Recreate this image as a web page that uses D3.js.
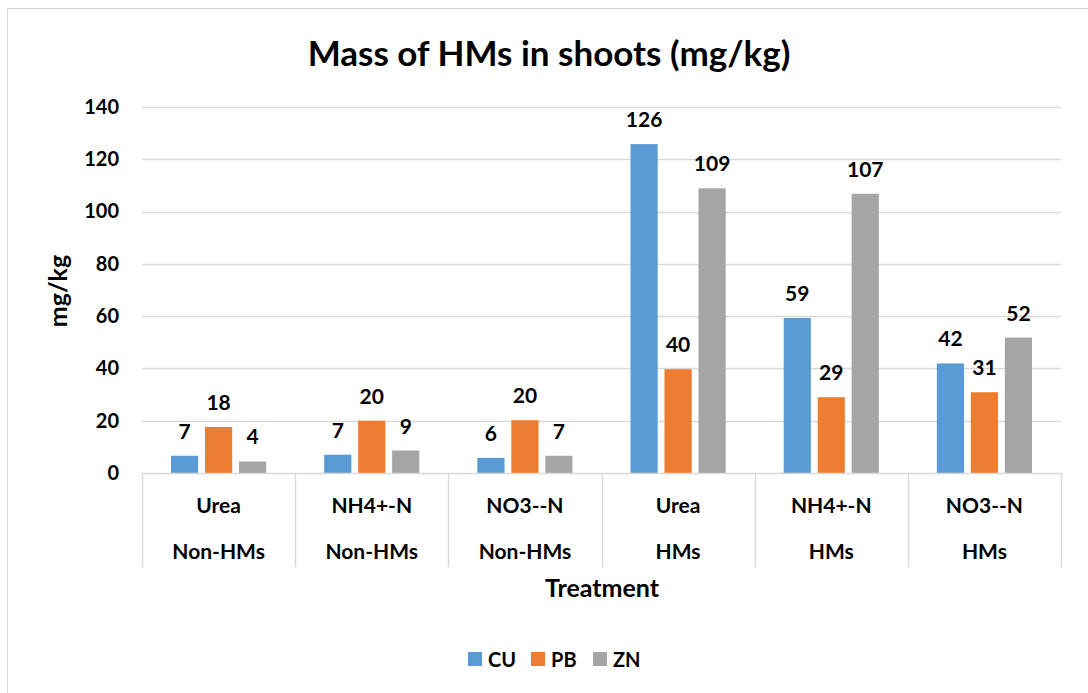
<!DOCTYPE html>
<html>
<head>
<meta charset="utf-8">
<script src="https://cdn.jsdelivr.net/npm/d3@7"></script>
<style>
  body { margin: 0; background: #fff; }
  text { font-family: Lato, "Open Sans", sans-serif; font-weight: bold; fill: #000; }
</style>
</head>
<body>
<div id="chart"></div>
<script>
// data
var treatments = ["Urea", "NH4+-N", "NO3--N", "Urea", "NH4+-N", "NO3--N"];
var groups = ["Non-HMs", "Non-HMs", "Non-HMs", "HMs", "HMs", "HMs"];
var seriesNames = ["CU", "PB", "ZN"];
var cuValues = [6.6, 7.0, 5.8, 125.8, 59.3, 41.9];
var pbValues = [17.6, 20.0, 20.2, 39.7, 29.0, 30.9];
var znValues = [4.4, 8.6, 6.6, 108.9, 106.8, 51.8];
var colors = ["#5b9bd5", "#ed7d31", "#a5a5a5"];
var yTicks = [0, 20, 40, 60, 80, 100, 120, 140];

var w = 1088, h = 693;
var plotLeft = 142, plotRight = 1061, plotTop = 107, plotBottom = 473;

var svg = d3.select("#chart").append("svg")
  .attr("width", w)
  .attr("height", h);

// outer chart border (only left/top edge visible in frame)
svg.append("rect")
  .attr("x", 7.5).attr("y", 8.5)
  .attr("width", 1100).attr("height", 700)
  .attr("fill", "none")
  .attr("stroke", "#d9d9d9");

svg.append("text")
  .attr("x", 549).attr("y", 66)
  .attr("text-anchor", "middle")
  .style("font-size", "35px")
  .text("Mass of HMs in shoots (mg/kg)");

var y = d3.scaleLinear().domain([0, 140]).range([plotBottom, plotTop]);
var x0 = d3.scaleBand().domain(d3.range(treatments.length)).range([plotLeft, plotRight]);
var x1 = d3.scaleBand().domain(seriesNames).range([29, x0.bandwidth() - 29]).paddingInner(0.2);

// gridlines
svg.append("g").selectAll("line")
  .data(yTicks.slice(1))
  .enter().append("line")
  .attr("x1", plotLeft).attr("x2", plotRight)
  .attr("y1", function(d) { return Math.round(y(d)) + 0.5; })
  .attr("y2", function(d) { return Math.round(y(d)) + 0.5; })
  .attr("stroke", "#d9d9d9")
  .attr("stroke-width", 1.5);

// y axis labels
var yAxis = svg.append("g")
  .attr("transform", "translate(" + (plotLeft - 23) + ",0)")
  .call(d3.axisLeft(y).tickValues(yTicks).tickSize(0).tickPadding(0));
yAxis.select(".domain").remove();
yAxis.selectAll("text")
  .style("font-size", "20px")
  .style("font-family", "Lato, sans-serif")
  .style("font-weight", "bold")
  .attr("fill", "#000");

svg.append("text")
  .attr("transform", "translate(67,291) rotate(-90)")
  .attr("text-anchor", "middle")
  .style("font-size", "25px")
  .text("mg/kg");

// bars
var allValues = [cuValues, pbValues, znValues];
var rows = treatments.map(function(t, i) {
  return seriesNames.map(function(s, j) { return { i: i, s: s, j: j, v: allValues[j][i] }; });
});

var cat = svg.append("g").selectAll("g")
  .data(rows)
  .enter().append("g")
  .attr("transform", function(d, i) { return "translate(" + x0(i) + ",0)"; });

cat.selectAll("rect")
  .data(function(d) { return d; })
  .enter().append("rect")
  .attr("x", function(d) { return x1(d.s); })
  .attr("width", x1.bandwidth())
  .attr("y", function(d) { return y(d.v); })
  .attr("height", function(d) { return plotBottom - y(d.v); })
  .attr("fill", function(d) { return colors[d.j]; });

cat.selectAll("text")
  .data(function(d) { return d; })
  .enter().append("text")
  .attr("x", function(d) { return x1(d.s) + x1.bandwidth() / 2; })
  .attr("y", function(d) { return y(d.v) - 17; })
  .attr("text-anchor", "middle")
  .style("font-size", "21px")
  .text(function(d) { return d3.format(".0f")(d.v); });

// x axis baseline and category dividers
svg.append("line")
  .attr("x1", plotLeft).attr("x2", plotRight)
  .attr("y1", plotBottom + 0.5).attr("y2", plotBottom + 0.5)
  .attr("stroke", "#d9d9d9").attr("stroke-width", 1.5);

var edges = d3.range(treatments.length + 1).map(function(i) {
  return i < treatments.length ? x0(i) : plotRight;
});
svg.append("g").selectAll("line")
  .data(edges)
  .enter().append("line")
  .attr("x1", function(d) { return Math.round(d) + 0.5; })
  .attr("x2", function(d) { return Math.round(d) + 0.5; })
  .attr("y1", plotBottom).attr("y2", 567)
  .attr("stroke", "#d9d9d9").attr("stroke-width", 1.5);

var labels = svg.append("g");
labels.selectAll("text.t")
  .data(treatments)
  .enter().append("text")
  .attr("class", "t")
  .attr("x", function(d, i) { return x0(i) + x0.bandwidth() / 2; })
  .attr("y", 513)
  .attr("text-anchor", "middle")
  .style("font-size", "21px")
  .text(function(d) { return d; });
labels.selectAll("text.g")
  .data(groups)
  .enter().append("text")
  .attr("class", "g")
  .attr("x", function(d, i) { return x0(i) + x0.bandwidth() / 2; })
  .attr("y", 559)
  .attr("text-anchor", "middle")
  .style("font-size", "21px")
  .text(function(d) { return d; });

svg.append("text")
  .attr("x", 602).attr("y", 597)
  .attr("text-anchor", "middle")
  .style("font-size", "25px")
  .text("Treatment");

// legend
var legendX = [468, 531, 593];
var legend = svg.append("g").selectAll("g")
  .data(seriesNames)
  .enter().append("g")
  .attr("transform", function(d, i) { return "translate(" + legendX[i] + ",652)"; });
legend.append("rect")
  .attr("width", 14).attr("height", 14)
  .attr("fill", function(d, i) { return colors[i]; });
legend.append("text")
  .attr("x", 20).attr("y", 15)
  .style("font-size", "20px")
  .text(function(d) { return d; });
</script>
</body>
</html>
